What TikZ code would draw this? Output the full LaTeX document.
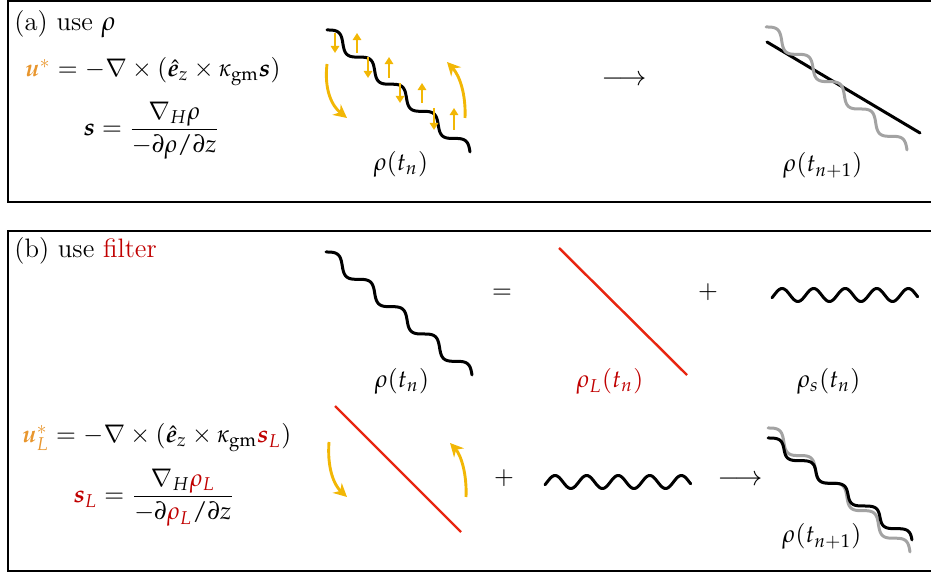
\documentclass[tikz,border=0pt]{standalone}
\usepackage[sc]{mathpazo}
\usepackage{amsmath}
\usepackage{bm}
\usetikzlibrary{arrows.meta}
\definecolor{uorange}{HTML}{E8962E}
\definecolor{arrowyellow}{HTML}{F2B705}
\definecolor{filterred}{HTML}{C00000}
\definecolor{linered}{HTML}{E82510}
\definecolor{wavegray}{HTML}{A3A3A3}
% staircase wave: start x, start y, dx, dy
\newcommand\stairwave[5][]{%
  \draw[wave,#1] plot[domain=0:1,samples=241,smooth,variable=\t]
    ({#2+#4*\t+0.72*#4*sin(1620*\t)/28.274},{#3+#5*\t-#5*sin(1620*\t)/28.274});}
% horizontal sine wave: start x, centre y
\newcommand\flatwave[2]{%
  \draw[wave] plot[domain=0:1,samples=201,smooth,variable=\t]
    ({#1+146*\t},{#2-6.5*sin(-25+1665*\t)});}
\begin{document}
\begin{tikzpicture}[x=0.45pt,y=-0.45pt,
  frame/.style={line width=1.1pt},
  wave/.style={line width=1.35pt,line join=round,line cap=round},
  smallarrow/.style={draw=arrowyellow,line width=0.9pt,-{Triangle[length=3.2pt,width=3.8pt,fill=arrowyellow]}},
  bigarrow/.style={draw=arrowyellow,line width=1.3pt,-{Stealth[length=6pt,width=6pt,fill=arrowyellow]}},
  redline/.style={draw=linered,line width=1.1pt},
  txt/.style={font=\fontsize{11}{13}\selectfont},
  big/.style={font=\fontsize{12}{14}\selectfont},
  lbl/.style={inner sep=0pt,anchor=base,txt},
  lblw/.style={inner sep=0pt,anchor=base west,txt}]
\useasboundingbox (0,0) rectangle (931,573);
% frames
\draw[frame] (8,1) rectangle (945,202);
\draw[frame] (8,231) rectangle (945,571);

% ---------- panel (a)
\node[lblw,big] (tA) at (14,31) {(\textit{a}) use $\rho$};
\node[lblw] (eqA1) at (25,77) {$\textcolor{uorange}{\bm{u}^{*}} = -\nabla\times(\hat{\bm{e}}_z\times\kappa_{\mathrm{gm}}\bm{s})$};
\node[lblw] (eqA2) at (83,136) {$\displaystyle \bm{s} = \frac{\nabla_H\rho}{-\partial\rho/\partial z}$};

\stairwave{327}{30}{143}{122}
\foreach \xa/\xb/\ya/\yb in {335/357/33/53, 368/389/57/78, 400/422/83/103, 434/454/108/130}{
  \draw[smallarrow] (\xa,\ya) -- (\xa,\yb);
  \draw[smallarrow] (\xb,\yb) -- (\xb,\ya);
}
\draw[bigarrow] (327,64) .. controls (324,90) and (332,106) .. (347,118);
\draw[bigarrow] (465,118) .. controls (466,95) and (460,76) .. (447,62);
\node[lbl] (rhoA) at (401,171) {$\rho(t_n)$};

\node[lbl,big] (arrA) at (624,86) {$\longrightarrow$};

\draw[wave] (767,42) -- (920,133);
\stairwave[draw=wavegray]{766}{27}{141}{123}
\node[lbl] (rhoA1) at (823,172) {$\rho(t_{n+1})$};

% ---------- panel (b)
\node[lblw,big] (tB) at (14,258) {(\textit{b}) use \textcolor{filterred}{filter}};

\stairwave{326}{252}{146}{123}
\node[lbl] (rhoB) at (402,388) {$\rho(t_n)$};
\node[lbl] (eqsign) at (502,299) {$=$};
\draw[redline] (559,248) -- (687,375);
\node[lbl] (rhoL) at (610,388) {$\textcolor{filterred}{\rho_L(t_n)}$};
\node[lbl] (plus1) at (708,299) {$+$};
\flatwave{772}{295}
\node[lbl] (rhoS) at (829,388) {$\rho_s(t_n)$};

\node[lblw] (eqB1) at (22,443) {$\textcolor{uorange}{\bm{u}^{*}_{L}} = -\nabla\times(\hat{\bm{e}}_z\times\kappa_{\mathrm{gm}}\textcolor{filterred}{\bm{s}_L})$};
\node[lblw] (eqB2) at (73,503) {$\displaystyle \textcolor{filterred}{\bm{s}_L} = \frac{\nabla_H\textcolor{filterred}{\rho_L}}{-\partial\textcolor{filterred}{\rho_L}/\partial z}$};

\draw[redline] (335,406) -- (461,532);
\draw[bigarrow] (329,442) .. controls (327,468) and (334,485) .. (347,497);
\draw[bigarrow] (466,497) .. controls (467,474) and (461,455) .. (450,443);
\node[lbl] (plus2) at (504,485) {$+$};
\flatwave{545}{482}
\node[lbl,big] (arrB) at (740,486) {$\longrightarrow$};
\stairwave[draw=wavegray]{768}{428}{142}{124}
\stairwave{768}{438}{144}{102}
\node[lbl] (rhoB1) at (822,543) {$\rho(t_{n+1})$};
\end{tikzpicture}
\end{document}
